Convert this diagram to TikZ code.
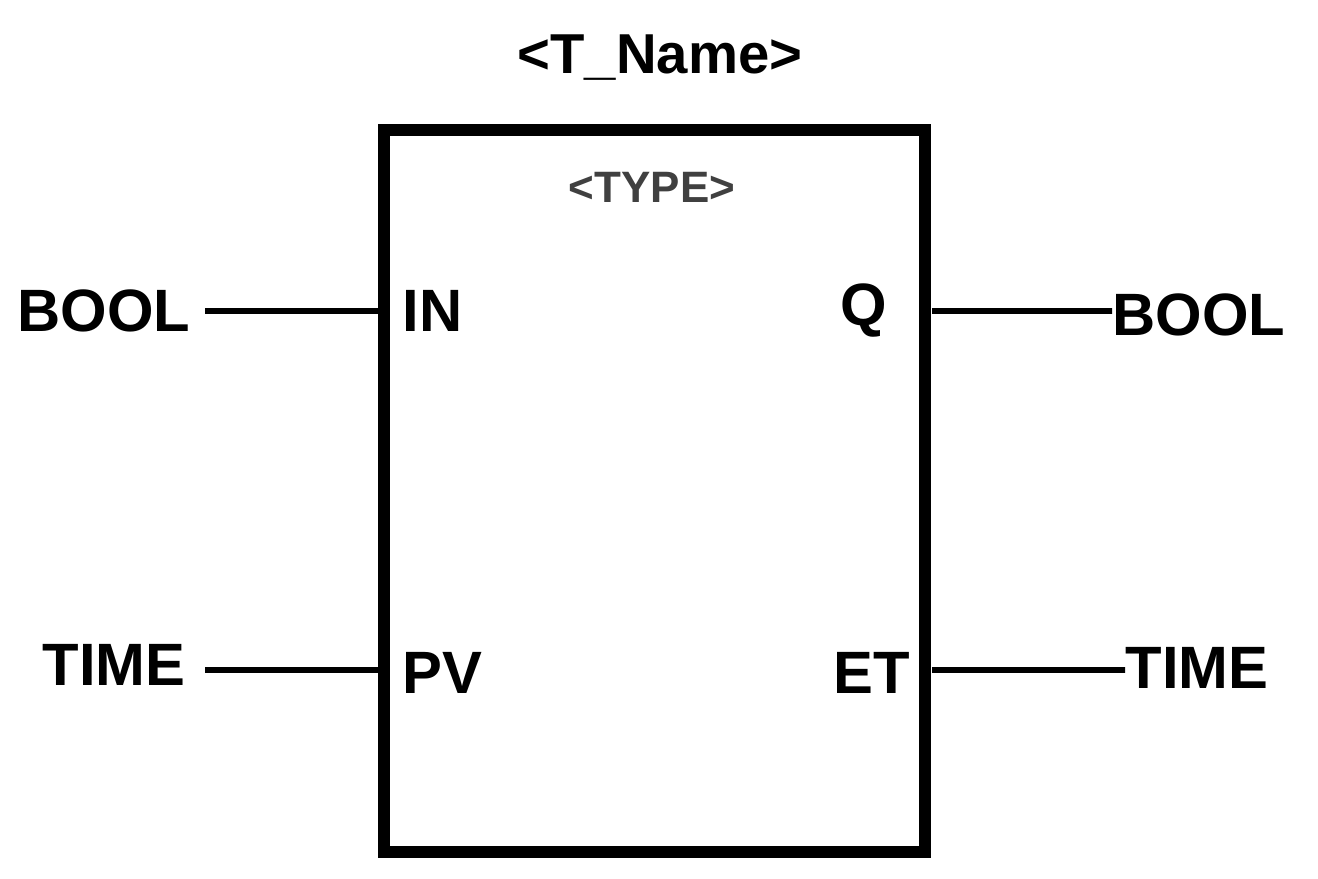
\documentclass[tikz,border=0pt]{standalone}
\usepackage{fontspec}
\setmainfont{Liberation Sans}
\usetikzlibrary{positioning}

\begin{document}
\begin{tikzpicture}[x=0.01cm,y=-0.01cm,
    lbl/.style={font=\fontsize{17}{17}\selectfont\bfseries, inner sep=0pt},
    port/.style={font=\fontsize{17}{17}\selectfont\bfseries, inner sep=0pt},
    wire/.style={line width=1.8pt}
]
    \useasboundingbox (0,0) rectangle (1318,879);

    % block
    \draw[line width=3.4pt] (384,130) rectangle (925,852);
    \node[font=\fontsize{16}{16}\selectfont\bfseries, inner sep=0pt] (title) at (660,58) {<T\_Name>};
    \node[font=\fontsize{12.5}{12.5}\selectfont\bfseries, text=black!75, inner sep=0pt] (type) at (652,187) {<TYPE>};

    % ports
    \node[port, anchor=west] (in) at (402,311) {IN};
    \node[port, anchor=west] (pv) at (402,673) {PV};
    \node[port, anchor=east] (q) at (888,311) {Q};
    \node[port, anchor=east] (et) at (911,673) {ET};

    % data types
    \node[lbl, anchor=east] (inT) at (191,311) {BOOL};
    \node[lbl, anchor=east] (pvT) at (186,665) {TIME};
    \node[lbl, anchor=west] (qT) at (1112,315) {BOOL};
    \node[lbl, anchor=west] (etT) at (1125,668) {TIME};

    \coordinate (inL) at (378,311);
    \coordinate (pvL) at (378,670);
    \coordinate (qR) at (932,311);
    \coordinate (etR) at (932,670);

    % wires
    \draw[wire] (inT.east |- inL) ++(14,0) -- (inL);
    \draw[wire] (pvT.east |- pvL) ++(19,0) -- (pvL);
    \draw[wire] (qR) -- (qT.west |- qR) -- ++(-4,0);
    \draw[wire] (etR) -- (etT.west |- etR) -- ++(-17,0);
\end{tikzpicture}
\end{document}
